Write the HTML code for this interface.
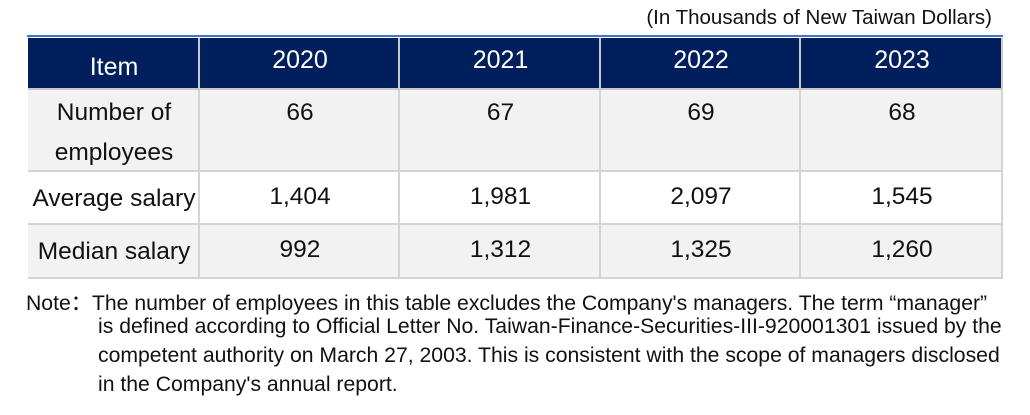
<!DOCTYPE html>
<html><head><meta charset="utf-8"><style>
body{margin:0;width:1030px;height:415px;background:#fff;position:relative;overflow:hidden;font-family:"Liberation Sans",sans-serif;color:#111}
.a{position:absolute}
.c{position:absolute;box-sizing:border-box;border-right:2px solid #d4d4d4;border-bottom:2px solid #d4d4d4}
.t{position:absolute;text-align:center;font-size:24.5px;white-space:nowrap}
.h{color:#fff;font-size:25px}
.n{position:absolute;font-size:21.2px;white-space:nowrap;color:#111}
</style></head><body>
<div class="a" style="right:38px;top:6px;font-size:20.5px">(In Thousands of New Taiwan Dollars)</div>
<div class="a" style="left:27px;top:35px;width:976px;height:2px;background:#4472c4"></div>
<div class="a" style="left:28px;top:37px;width:975px;height:242px;border-left:2px solid #d4d4d4;box-sizing:border-box">
</div>
<script>
const years=["2020","2021","2022","2023"];
const labels=[["Number of","employees"],["Average salary"],["Median salary"]];
const employees=["66","67","69","68"];
const avgSalary=["1,404","1,981","2,097","1,545"];
const medSalary=["992","1,312","1,325","1,260"];
const rows=[employees,avgSalary,medSalary];
const colX=[28,200,400,601,801,1003];
const rowY=[38,90,172,225,279];
const rowBg=["#f2f2f2","#ffffff","#f2f2f2"];
function cell(x0,x1,y0,y1,bg,name){
 const d=document.createElement('div');d.className='c';
 
 
 d.style.cssText=`left:${x0}px;top:${y0}px;width:${x1-x0}px;height:${y1-y0}px;background:${bg};`+(bg==='#001f5c'?'border-color:#c8c8c8':'');
 document.body.appendChild(d);return d;}
function txt(x0,x1,y,s,cls,name){
 const d=document.createElement('div');d.className='t '+(cls||'');
 
 
 d.style.left=x0+'px';d.style.width=(x1-x0)+'px';d.style.top=y+'px';d.textContent=s;document.body.appendChild(d);}
cell(colX[0],colX[1],rowY[0],rowY[1],'#001f5c','header-item');
txt(colX[0],colX[1],rowY[0]+15,'Item','h','header-item-label');
years.forEach((y,i)=>{cell(colX[i+1],colX[i+2],rowY[0],rowY[1],'#001f5c','header-'+y);
 txt(colX[i+1],colX[i+2],rowY[0]+8,y,'h','header-year-'+y);});
rows.forEach((r,ri)=>{
 const y0=rowY[ri+1],y1=rowY[ri+2];
 cell(colX[0],colX[1],y0,y1,rowBg[ri],'row-label-cell');
 labels[ri].forEach((l,li)=>txt(colX[0],colX[1],y0+(ri===0?9:13)+li*40,l,'','row-label'));
 r.forEach((v,ci)=>{cell(colX[ci+1],colX[ci+2],y0,y1,rowBg[ri],'value-cell');
  txt(colX[ci+1],colX[ci+2],y0+(ri===0?9:11),v,'','value');});
});
</script>
<div class="n" style="left:26px;top:286px">Note：The number of employees in this table excludes the Company's managers. The term “manager”</div>
<div class="n" style="left:98px;top:315px">is defined according to Official Letter No. Taiwan-Finance-Securities-III-920001301 issued by the</div>
<div class="n" style="left:98px;top:344px">competent authority on March 27, 2003. This is consistent with the scope of managers disclosed</div>
<div class="n" style="left:98px;top:373px">in the Company's annual report.</div>
</body></html>
